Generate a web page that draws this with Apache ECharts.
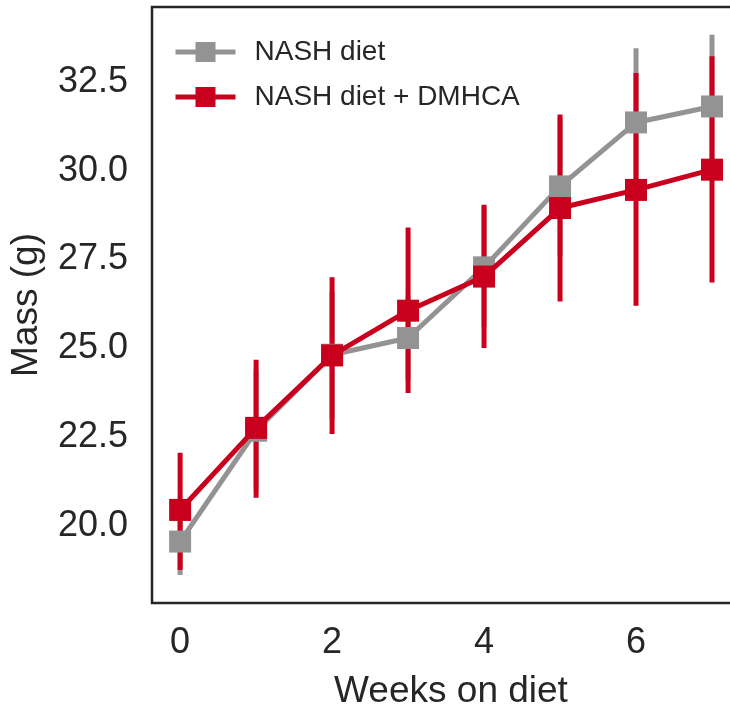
<!DOCTYPE html>
<html>
<head>
<meta charset="utf-8">
<script src="https://cdn.jsdelivr.net/npm/echarts@6/dist/echarts.min.js"></script>
<style>html,body{margin:0;padding:0;background:#fff}#chart{width:730px;height:706px}</style>
</head>
<body>
<div id="chart"></div>
<script>
const weeks = [0, 1, 2, 3, 4, 5, 6, 7];
const nashMean = [19.56, 22.68, 24.82, 25.29, 27.28, 29.56, 31.36, 31.81];
const nashLow  = [18.62, 21.00, 23.00, 24.10, 25.60, 27.60, 29.27, 29.79];
const nashHigh = [20.50, 24.40, 26.60, 26.50, 29.00, 31.50, 33.45, 33.83];
const dmhcaMean = [20.45, 22.76, 24.80, 26.06, 27.02, 28.95, 29.46, 30.03];
const dmhcaLow  = [18.76, 20.79, 22.59, 23.74, 25.01, 26.32, 26.20, 26.85];
const dmhcaHigh = [22.06, 24.68, 27.00, 28.40, 29.04, 31.58, 32.75, 33.22];
const xTicks = [0, 2, 4, 6];
const yTicks = [20.0, 22.5, 25.0, 27.5, 30.0, 32.5];
const seriesNames = ['NASH diet', 'NASH diet + DMHCA'];

const GRAY = '#939393';
const RED = '#C8001E';
const TXT = '#262626';
const FONT = "'Liberation Sans', Arial, sans-serif";

function errData(low, high) { return weeks.map((w, i) => [w, low[i], high[i]]); }
function lineData(mean) { return weeks.map((w, i) => [w, mean[i]]); }
function errSeries(name, low, high, color) {
  return {
    type: 'custom', name: name + ' err', data: errData(low, high),
    encode: { x: 0, y: [1, 2] }, silent: true, z: 2,
    renderItem: function (params, api) {
      const p1 = api.coord([api.value(0), api.value(1)]);
      const p2 = api.coord([api.value(0), api.value(2)]);
      return { type: 'line', shape: { x1: p1[0], y1: p1[1], x2: p2[0], y2: p2[1] },
        style: { stroke: color, lineWidth: 5 } };
    }
  };
}

const chart = echarts.init(document.getElementById('chart'), null, { renderer: 'canvas' });
chart.setOption({
  animation: false,
  backgroundColor: '#fff',
  textStyle: { fontFamily: FONT },
  grid: { left: 152, top: 7, bottom: 103, width: 598, outerBoundsMode: 'none', containLabel: false,
    show: true, borderColor: TXT, borderWidth: 2.5, backgroundColor: 'transparent' },
  legend: {
    left: 173, top: 38, orient: 'vertical', padding: 0, itemGap: 17,
    itemWidth: 60, itemHeight: 25,
    lineStyle: { width: 5 },
    textStyle: { fontSize: 28, color: TXT, fontFamily: FONT, padding: [0, 0, 0, 14] },
    data: seriesNames
  },
  xAxis: {
    type: 'value', min: -0.37, max: 7.5,
    axisLine: { show: false }, axisTick: { show: false }, splitLine: { show: false },
    axisLabel: { customValues: xTicks, fontSize: 36, lineHeight: 36, color: TXT, margin: 22, fontFamily: FONT },
    name: 'Weeks on diet', nameLocation: 'middle', nameGap: 70,
    nameTextStyle: { fontSize: 37, color: TXT, fontFamily: FONT, lineHeight: 37 }
  },
  yAxis: {
    type: 'value', min: 17.83, max: 34.61,
    axisLine: { show: false }, axisTick: { show: false }, splitLine: { show: false },
    axisLabel: { customValues: yTicks, fontSize: 36, lineHeight: 36, color: TXT, margin: 24, fontFamily: FONT,
      formatter: v => v.toFixed(1) },
    name: 'Mass (g)', nameLocation: 'middle', nameGap: 107,
    nameTextStyle: { fontSize: 37, color: TXT, fontFamily: FONT, lineHeight: 37 }
  },
  series: [
    errSeries(seriesNames[0], nashLow, nashHigh, GRAY),
    errSeries(seriesNames[1], dmhcaLow, dmhcaHigh, RED),
    { type: 'line', name: seriesNames[0], data: lineData(nashMean), z: 3,
      symbol: 'rect', symbolSize: 22, showAllSymbol: true,
      lineStyle: { color: GRAY, width: 5 }, itemStyle: { color: GRAY } },
    { type: 'line', name: seriesNames[1], data: lineData(dmhcaMean), z: 4,
      symbol: 'rect', symbolSize: 22, showAllSymbol: true,
      lineStyle: { color: RED, width: 5 }, itemStyle: { color: RED } }
  ]
});
</script>
</body>
</html>
